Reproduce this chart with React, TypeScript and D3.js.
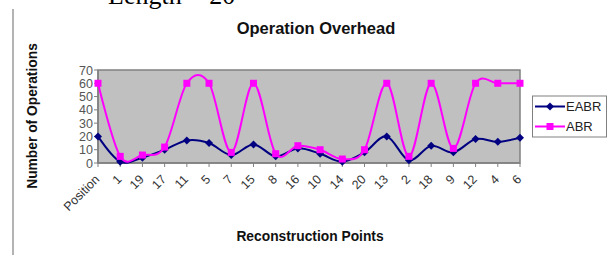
import React from 'react';
import * as d3 from 'd3';

// reconstruction order on the x axis
const categories = ['Position', '1', '19', '17', '11', '5', '7', '15', '8', '16', '10', '14', '20', '13', '2', '18', '9', '12', '4', '6'];
const eabr = [20, 1, 4, 10, 17, 15, 6, 14, 5, 11, 7, 1, 8, 20, 2, 13, 8, 18, 16, 19];
const abr = [60, 5, 6, 12, 60, 60, 8, 60, 7, 13, 10, 3, 10, 60, 5, 60, 11, 60, 60, 60];
const yTicks = [0, 10, 20, 30, 40, 50, 60, 70];

const W = 612;
const H = 255;
const plot = { left: 98, right: 520, top: 70, bottom: 163 };

const App = () => {
    const x = d3.scalePoint<string>()
        .domain(categories)
        .range([plot.left, plot.right]);
    const y = d3.scaleLinear()
        .domain([0, 70])
        .range([plot.bottom, plot.top]);

    // Excel style smoothed line
    const line = d3.line<number>()
        .x((d, i) => x(categories[i]) as number)
        .y(d => y(d))
        .curve(d3.curveCardinal.tension(0));

    const diamond = (cx: number, cy: number, r: number) =>
        `M${cx},${cy - r}L${cx + r},${cy}L${cx},${cy + r}L${cx - r},${cy}Z`;

    const font = 'Arial, "Liberation Sans", sans-serif';

    return (
        <svg width={W} height={H} style={{ position: 'absolute', left: 0, top: 0, background: '#fff' }}>
            {/* caption cut off at the top of the page */}
            <text x={108} y={4} fontFamily='"Liberation Serif", "Times New Roman", serif' fontSize={26} fill="#000">Length = 20</text>
            <line x1={13} x2={13} y1={9} y2={H} stroke="#9a9a9a" strokeWidth={1.5} />

            <text x={316} y={34} textAnchor="middle" fontFamily={font} fontWeight="bold" fontSize={16.5} fill="#111">Operation Overhead</text>

            {/* plot area */}
            <rect x={plot.left} y={plot.top} width={plot.right - plot.left} height={plot.bottom - plot.top} fill="#c0c0c0" stroke="#808080" strokeWidth={1.5} />

            {/* y axis */}
            <line x1={plot.left} x2={plot.left} y1={plot.top} y2={plot.bottom} stroke="#808080" strokeWidth={1.5} />
            {yTicks.map(t => (
                <g key={t}>
                    <line x1={plot.left - 4} x2={plot.left} y1={y(t)} y2={y(t)} stroke="#808080" />
                    <text x={plot.left - 5} y={y(t)} dy="0.36em" textAnchor="end" fontFamily={font} fontSize={12.5} fill="#555">{t}</text>
                </g>
            ))}

            {/* x axis */}
            <line x1={plot.left} x2={plot.right} y1={plot.bottom} y2={plot.bottom} stroke="#808080" strokeWidth={1.5} />
            {categories.map(c => (
                <g key={c}>
                    <line x1={x(c)} x2={x(c)} y1={plot.bottom} y2={plot.bottom + 4} stroke="#808080" />
                    <text
                        transform={`translate(${(x(c) as number) - 1},${plot.bottom + 14}) rotate(-45)`}
                        textAnchor="end"
                        dy="0.36em"
                        fontFamily={font}
                        fontSize={12.5}
                        fill="#333"
                    >{c}</text>
                </g>
            ))}

            {/* series */}
            <path d={line(eabr) || ''} fill="none" stroke="#000080" strokeWidth={2} />
            {eabr.map((v, i) => (
                <path key={'e' + i} d={diamond(x(categories[i]) as number, y(v), 4)} fill="#000080" />
            ))}
            <path d={line(abr) || ''} fill="none" stroke="#ff00ff" strokeWidth={2} />
            {abr.map((v, i) => (
                <rect key={'a' + i} x={(x(categories[i]) as number) - 3.5} y={y(v) - 3.5} width={7} height={7} fill="#ff00ff" />
            ))}

            {/* axis titles */}
            <text transform="translate(37,116) rotate(-90)" textAnchor="middle" fontFamily={font} fontWeight="bold" fontSize={13.8} fill="#111">Number of Operations</text>
            <text x={310} y={241} textAnchor="middle" fontFamily={font} fontWeight="bold" fontSize={13.8} fill="#111">Reconstruction Points</text>

            {/* legend */}
            <rect x={532.5} y={96} width={74} height={41} fill="#fff" stroke="#808080" />
            <line x1={535} x2={565} y1={106.5} y2={106.5} stroke="#000080" strokeWidth={2} />
            <path d={diamond(550, 106.5, 4)} fill="#000080" />
            <text x={566} y={106.5} dy="0.36em" fontFamily={font} fontSize={13} fill="#222">EABR</text>
            <line x1={535} x2={565} y1={126.5} y2={126.5} stroke="#ff00ff" strokeWidth={2} />
            <rect x={546.5} y={123} width={7} height={7} fill="#ff00ff" />
            <text x={566} y={126.5} dy="0.36em" fontFamily={font} fontSize={13} fill="#222">ABR</text>
        </svg>
    );
};

export default App;
